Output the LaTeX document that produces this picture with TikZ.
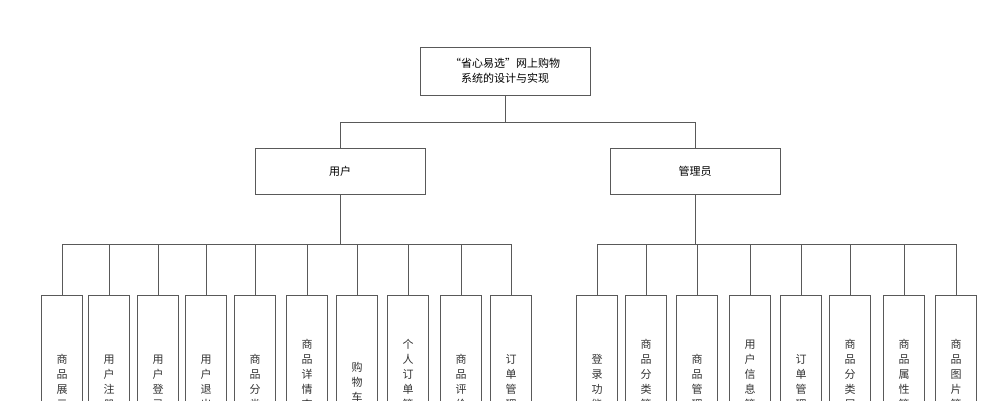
\documentclass[tikz,border=0pt]{standalone}
\usepackage{fontspec}
\setmainfont{Noto Sans CJK SC}
\tikzset{
    box/.style = {
        draw=black!65,
        line width=1pt,
        },
    leaf/.style = {
        box,
        minimum width=41pt,
        minimum height=180pt,
        anchor=north,
        },
    link/.style = {
        draw=black!65,
        line width=1pt,
        },
    vlabel/.style = {
        font=\fontsize{11}{15}\selectfont,
        text=black!80,
        align=center,
        },
}
\begin{document}
\begin{tikzpicture}[x=1pt,y=-1pt]
    \clip (0,0) rectangle (1000,400);
    \fill[white] (0,0) rectangle (1000,400);

    \node [box, minimum width=170pt, minimum height=48pt, font=\fontsize{11}{15}\selectfont, align=center] (root) at (505,71) {“省心易选”网上购物\\系统的设计与实现};
    \node [box, minimum width=170pt, minimum height=46pt, font=\fontsize{11}{15}\selectfont] (user) at (340,171) {用户};
    \node [box, minimum width=170pt, minimum height=46pt, font=\fontsize{11}{15}\selectfont] (admin) at (695,171) {管理员};

    \draw [link] (root.south) -- (505,122) -| (user.north);
    \draw [link] (505,122) -| (admin.north);

    % user side
    \foreach \x/\n/\t in {62/u1/商\\品\\展\\示, 109/u2/用\\户\\注\\册, 158/u3/用\\户\\登\\录,
        206/u4/用\\户\\退\\出, 255/u5/商\\品\\分\\类, 307/u6/商\\品\\详\\情\\查\\看,
        357/u7/购\\物\\车, 408/u8/个\\人\\订\\单\\管\\理, 461/u9/商\\品\\评\\价,
        511/u10/订\\单\\管\\理} {
        \node [leaf] (\n) at (\x,295) {};
        \node [vlabel] at (\x,382) {\t};
        \draw [link] (\x,244) -- (\n.north);
    }
    \draw [link] (user.south) -- (340,244);
    \draw [link] (62,244) -- (511,244);

    % admin side
    \foreach \x/\n/\t in {597/a1/登\\录\\功\\能, 646/a2/商\\品\\分\\类\\管\\理, 697/a3/商\\品\\管\\理,
        750/a4/用\\户\\信\\息\\管\\理, 801/a5/订\\单\\管\\理, 850/a6/商\\品\\分\\类\\属\\性,
        904/a7/商\\品\\属\\性\\管\\理, 956/a8/商\\品\\图\\片\\管\\理} {
        \node [leaf] (\n) at (\x,295) {};
        \node [vlabel] at (\x,382) {\t};
        \draw [link] (\x,244) -- (\n.north);
    }
    \draw [link] (admin.south) -- (695,244);
    \draw [link] (597,244) -- (956,244);
\end{tikzpicture}
\end{document}
